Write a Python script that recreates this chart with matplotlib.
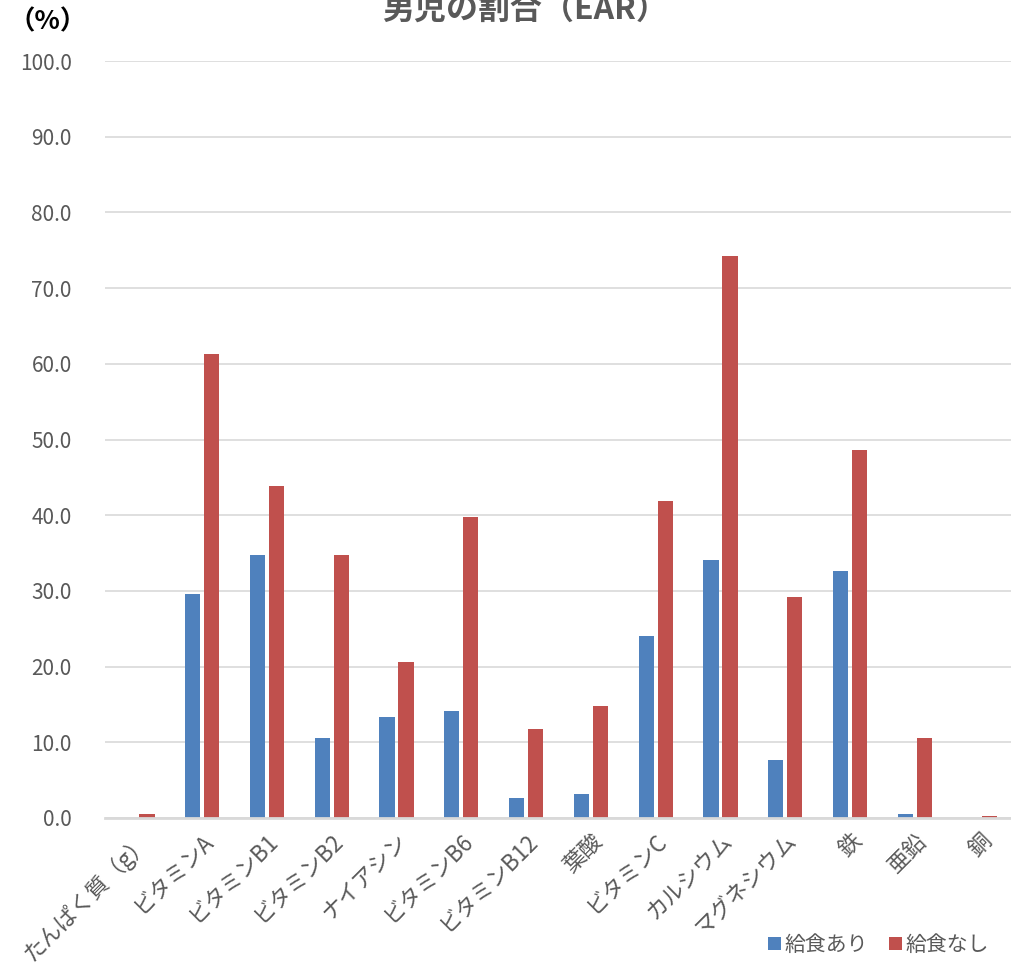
import matplotlib
matplotlib.use("Agg")
import matplotlib.pyplot as plt
import numpy as np

plt.rcParams['font.family'] = ['Noto Sans CJK JP', 'DejaVu Sans']

# nutrients and share (%) for the two groups
categories = ['たんぱく質（g）', 'ビタミンA', 'ビタミンB1', 'ビタミンB2', 'ナイアシン',
              'ビタミンB6', 'ビタミンB12', '葉酸', 'ビタミンC', 'カルシウム',
              'マグネシウム', '鉄', '亜鉛', '銅']
with_lunch = [0.0, 29.6, 34.7, 10.6, 13.4, 14.1, 2.6, 3.2, 24.1, 34.1, 7.6, 32.6, 0.5, 0.0]
without_lunch = [0.5, 61.3, 43.8, 34.7, 20.6, 39.8, 11.8, 14.8, 41.9, 74.3, 29.2, 48.6, 10.6, 0.2]
yticks = np.arange(0, 101, 10)

text_color = '#595959'
grid_color = '#d9d9d9'

fig = plt.figure(figsize=(10.12, 9.65), dpi=100)
ax = fig.add_axes([105 / 1012, 1 - 818 / 965, 907 / 1012, (818 - 61) / 965])

x = np.arange(len(categories))
w = 0.235
gap = 0.03
ax.bar(x - w / 2 - gap, with_lunch, width=w, color='#4f81bd', label='給食あり', zorder=3)
ax.bar(x + w / 2 + gap, without_lunch, width=w, color='#c0504d', label='給食なし', zorder=3)

ax.set_xlim(-0.5, len(categories) - 0.5)
ax.set_ylim(0, 100)
ax.set_yticks(yticks)
ax.set_yticklabels([f'{v:.1f}' for v in yticks], fontsize=15, color=text_color)
ax.tick_params(axis='y', length=0, pad=24)
ax.tick_params(axis='x', length=0, pad=8)
ax.set_xticks(x)
ax.set_xticklabels(categories, rotation=45, ha='right', rotation_mode='anchor',
                   fontsize=16, color=text_color)

ax.grid(axis='y', color=grid_color, linewidth=1.2, zorder=0)
for side in ['top', 'right', 'left']:
    ax.spines[side].set_visible(False)
ax.spines['bottom'].set_color(grid_color)
ax.spines['bottom'].set_linewidth(2)
ax.spines['bottom'].set_zorder(4)

fig.text(525 / 1012, 1 - 10 / 965, '男児の割合（EAR）', ha='center', va='center',
         fontsize=23, fontweight='bold', color=text_color)
fig.text(8 / 1012, 1 - 22 / 965, '（%）', ha='left', va='center',
         fontsize=19, fontweight='bold', color='#000000')

fig.legend(loc='center right', bbox_to_anchor=(1008 / 1012, 1 - 945 / 965), ncol=2,
           frameon=False, fontsize=15, handlelength=0.6, handleheight=0.6,
           handletextpad=0.2, columnspacing=1.0, labelcolor=text_color)

fig.savefig('out.png', dpi=100)
